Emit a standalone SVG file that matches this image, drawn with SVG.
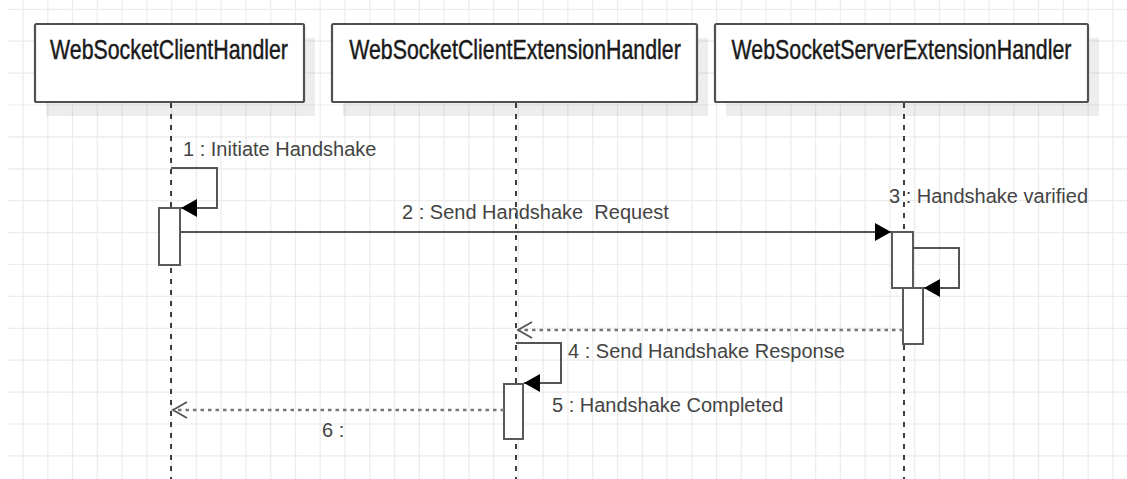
<svg xmlns="http://www.w3.org/2000/svg" width="1127" height="479" viewBox="0 0 1127 479">
  <style>
    .grid { stroke: #ececec; stroke-width: 1.2; fill: none; }
    .shadow { fill: #000; fill-opacity: 0.07; }
    .head { fill: #fff; stroke: #505050; stroke-width: 2.2; }
    .title { font-family: "Liberation Sans", Arial, sans-serif; font-size: 27px; fill: #1a1a1a; stroke: #1a1a1a; stroke-width: 0.45; text-anchor: middle; }
    .life { stroke: #111; stroke-width: 1.6; stroke-dasharray: 5 6; fill: none; }
    .act { fill: #fff; stroke: #5a5a5a; stroke-width: 2; }
    .msg { stroke: #555; stroke-width: 2; fill: none; }
    .ret { stroke: #777; stroke-width: 2.6; stroke-dasharray: 3.5 4; fill: none; }
    .lbl { font-family: "Liberation Sans", Arial, sans-serif; font-size: 20px; fill: #444; white-space: pre; }
  </style>
  <defs>
    <marker id="block" markerUnits="userSpaceOnUse" viewBox="0 0 16 18" markerWidth="16" markerHeight="18" refX="16" refY="9" orient="auto">
      <path d="M0,0 L16,9 L0,18 Z" fill="#000"/>
    </marker>
    <marker id="open" markerUnits="userSpaceOnUse" viewBox="-2 -2 18 20" markerWidth="18" markerHeight="20" refX="14" refY="8" orient="auto" overflow="visible">
      <path d="M0,0 L14,8 L0,16" fill="none" stroke="#555" stroke-width="1.8"/>
    </marker>
  </defs>

  <rect width="1127" height="479" fill="#fff"/>

  <!-- background grid -->
  <path class="grid" d="
    M23,0V479 M47.8,0V479 M72.5,0V479 M97.3,0V479 M122.1,0V479 M146.9,0V479 M171.6,0V479 M196.4,0V479 M221.2,0V479
    M245.9,0V479 M270.7,0V479 M295.5,0V479 M320.2,0V479 M345,0V479 M369.8,0V479 M394.6,0V479 M419.3,0V479 M444.1,0V479
    M468.9,0V479 M493.6,0V479 M518.4,0V479 M543.2,0V479 M567.9,0V479 M592.7,0V479 M617.5,0V479 M642.3,0V479 M667,0V479
    M691.8,0V479 M716.6,0V479 M741.3,0V479 M766.1,0V479 M790.9,0V479 M815.6,0V479 M840.4,0V479 M865.2,0V479 M890,0V479
    M914.7,0V479 M939.5,0V479 M964.3,0V479 M989,0V479 M1013.8,0V479 M1038.6,0V479 M1063.3,0V479 M1088.1,0V479 M1112.9,0V479
    M8,9.3H1127 M8,41.2H1127 M8,73.1H1127 M8,105H1127 M8,136.9H1127 M8,168.8H1127 M8,200.7H1127 M8,232.6H1127
    M8,264.5H1127 M8,296.4H1127 M8,328.3H1127 M8,360.2H1127 M8,392.1H1127 M8,424H1127 M8,455.9H1127"/>

  <!-- participant: WebSocketClientHandler -->
  <g id="client">
    <rect class="shadow" x="46" y="38" width="269" height="78"/>
    <rect class="head" x="35" y="24" width="269" height="78" rx="1.5"/>
    <g transform="translate(169,59) scale(0.79,1)"><text class="title" x="0" y="0">WebSocketClientHandler</text></g>
    <line class="life" x1="171" y1="103" x2="171" y2="479"/>
    <rect class="act" x="159" y="208" width="21" height="57"/>
  </g>

  <!-- participant: WebSocketClientExtensionHandler -->
  <g id="clientExt">
    <rect class="shadow" x="343" y="38" width="365" height="78"/>
    <rect class="head" x="332" y="24" width="365" height="78" rx="1.5"/>
    <g transform="translate(515,59) scale(0.79,1)"><text class="title" x="0" y="0">WebSocketClientExtensionHandler</text></g>
    <line class="life" x1="516" y1="103" x2="516" y2="479"/>
    <rect class="act" x="504" y="384" width="19" height="55"/>
  </g>

  <!-- participant: WebSocketServerExtensionHandler -->
  <g id="serverExt">
    <rect class="shadow" x="726" y="38" width="373" height="78"/>
    <rect class="head" x="715" y="24" width="373" height="78" rx="1.5"/>
    <g transform="translate(901.5,59) scale(0.79,1)"><text class="title" x="0" y="0">WebSocketServerExtensionHandler</text></g>
    <line class="life" x1="904" y1="103" x2="904" y2="479"/>
    <rect class="act" x="892" y="232" width="21" height="56"/>
    <rect class="act" x="903" y="288" width="20" height="56"/>
  </g>

  <!-- messages -->
  <g id="connectors">
    <!-- 1: self call on the client -->
    <path class="msg" d="M171,168 H217 V208 H181" marker-end="url(#block)"/>
    <text class="lbl" x="183" y="156">1 : Initiate Handshake</text>

    <!-- 2: client to server extension -->
    <path class="msg" d="M180,232 H891" marker-end="url(#block)"/>
    <text class="lbl" x="402" y="219">2 : Send Handshake  Request</text>

    <!-- 3: self call on the server extension -->
    <path class="msg" d="M913,248 H959 V288 H924" marker-end="url(#block)"/>
    <text class="lbl" x="889" y="203">3 : Handshake varified</text>

    <!-- reply from server extension -->
    <path class="ret" d="M903,330 H518" marker-end="url(#open)"/>

    <!-- 4: self call on the client extension -->
    <path class="msg" d="M516,343 H561 V383 H524" marker-end="url(#block)"/>
    <text class="lbl" x="568" y="358">4 : Send Handshake Response</text>
    <text class="lbl" x="552" y="412">5 : Handshake Completed</text>

    <!-- 6: reply to the client -->
    <path class="ret" d="M504,410 H173" marker-end="url(#open)"/>
    <text class="lbl" x="322" y="437">6 :</text>
  </g>
</svg>
